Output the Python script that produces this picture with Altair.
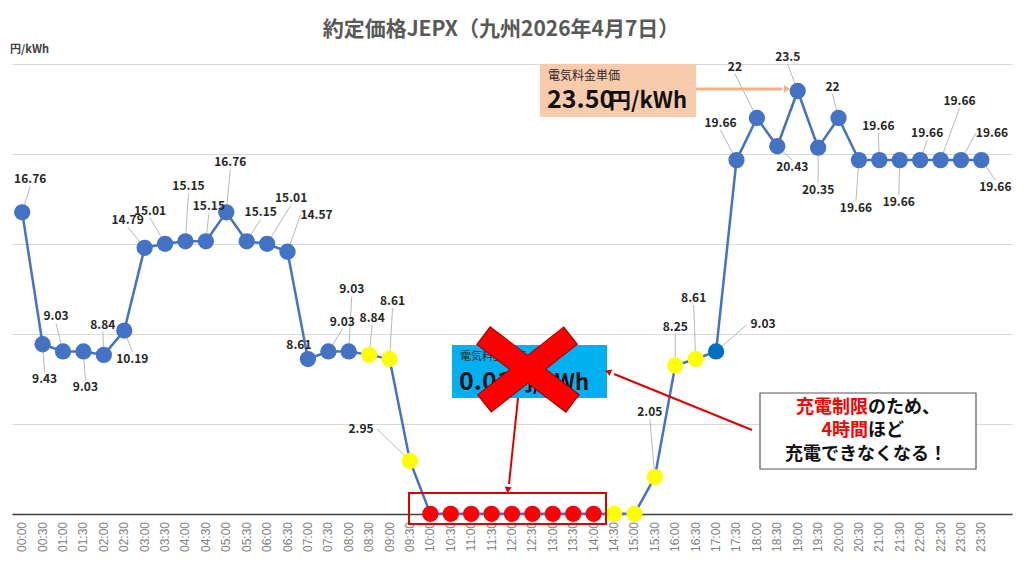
import math
import altair as alt
import pandas as pd

# ---------------- data ----------------
times = ["00:00", "00:30", "01:00", "01:30", "02:00", "02:30", "03:00", "03:30",
         "04:00", "04:30", "05:00", "05:30", "06:00", "06:30", "07:00", "07:30",
         "08:00", "08:30", "09:00", "09:30", "10:00", "10:30", "11:00", "11:30",
         "12:00", "12:30", "13:00", "13:30", "14:00", "14:30", "15:00", "15:30",
         "16:00", "16:30", "17:00", "17:30", "18:00", "18:30", "19:00", "19:30",
         "20:00", "20:30", "21:00", "21:30", "22:00", "22:30", "23:00", "23:30"]

prices = [16.76, 9.43, 9.03, 9.03, 8.84, 10.19, 14.79, 15.01,
          15.15, 15.15, 16.76, 15.15, 15.01, 14.57, 8.61, 9.03,
          9.03, 8.84, 8.61, 2.95, 0.01, 0.01, 0.01, 0.01,
          0.01, 0.01, 0.01, 0.01, 0.01, 0.01, 0.01, 2.05,
          8.25, 8.61, 9.03, 19.66, 22.0, 20.43, 23.5, 20.35,
          22.0, 19.66, 19.66, 19.66, 19.66, 19.66, 19.66, 19.66]

status = (["normal"] * 17 + ["low"] * 3 + ["blocked"] * 9 + ["low"] * 5
          + ["mark"] + ["normal"] * 13)

label_text = ["16.76", "9.43", "9.03", "9.03", "8.84", "10.19", "14.79", "15.01",
              "15.15", "15.15", "16.76", "15.15", "15.01", "14.57", "8.61", "9.03",
              "9.03", "8.84", "8.61", "2.95", "", "", "", "",
              "", "", "", "", "", "", "", "2.05",
              "8.25", "8.61", "9.03", "19.66", "22", "20.43", "23.5", "20.35",
              "22", "19.66", "19.66", "19.66", "19.66", "19.66", "19.66", "19.66"]

# label placement offsets (pixels, relative to the point)
label_dx = [8, 2, -7, 2, -1, 8, -17, -15, 3, 3, 4, 14, 24, 29, -9, 14,
            3, 3, 3, -49, 0, 0, 0, 0, 0, 0, 0, 0, 0, 0, 0, -5,
            0, -2, 47, -16, -22, 15, -10, 0, -6, -3, -1, -1, 7, 19, 31, 14]
label_dy = [-33, 35, -35, 36, -30, 28, -28, -33, -55, -35, -50, -29, -46, -37, -14, -29,
            -62, -37, -58, -32, 0, 0, 0, 0, 0, 0, 0, 0, 0, 0, 0, -65,
            -39, -61, -27, -37, -51, 21, -34, 42, -31, 48, -34, 42, -27, -59, -27, 27]

# ---------------- layout constants ----------------
W, H = 1000, 450
X_DOM = [-0.5, 48.5]
Y_DOM = [0, 25]
PXX = W / (X_DOM[1] - X_DOM[0])
PXY = H / (Y_DOM[1] - Y_DOM[0])
OX, OY = 12, 64  # page position of plot origin


def px(x):
    return x - OX


def py(y):
    return y - OY


rows = []
for i, (t, p, s, lt, dx, dy) in enumerate(zip(times, prices, status, label_text, label_dx, label_dy)):
    lx = i + dx / PXX
    ly = p - dy / PXY
    if abs(dx) >= 25:
        sx = i + (dx - math.copysign(16, dx)) / PXX
        sy = ly
    else:
        sx = lx
        sy = p - (dy - math.copysign(7, dy)) / PXY if dy != 0 else p
    dist = math.hypot(dx, dy)
    rows.append(dict(i=i, time=t, price=p, status=s, label=lt, lx=lx, ly=ly,
                     sx=sx, sy=sy, leader=(lt != "" and dist > 22 and i != 14)))
df = pd.DataFrame(rows)

FONT = "Noto Sans CJK JP"

xs = alt.Scale(domain=X_DOM, nice=False, zero=False)
ys = alt.Scale(domain=Y_DOM, nice=False)

x_enc = alt.X("i:Q", scale=xs, axis=alt.Axis(
    values=list(range(48)), labels=False, grid=False, ticks=False, title=None,
    domainColor="#404040", domainWidth=1.5))
y_enc = alt.Y("price:Q", scale=ys, axis=alt.Axis(
    values=[0, 5, 10, 15, 20, 25], labels=False, ticks=False, domain=False,
    title=None, gridColor="#d9d9d9", gridWidth=1))

base = alt.Chart(df)

line = base.mark_line(color="#4472c4", strokeWidth=2.5).encode(x=x_enc, y=y_enc)

xlabels = base.mark_text(font="Liberation Sans", fontSize=12, color="#7f7f7f",
                         angle=270, align="right", baseline="middle").encode(
    x=alt.X("i:Q", scale=xs), y=alt.value(py(522)), text="time:N")

leaders = base.transform_filter("datum.leader").mark_rule(
    color="#a6a6a6", strokeWidth=0.8).encode(
    x=alt.X("sx:Q", scale=xs), y=alt.Y("sy:Q", scale=ys),
    x2="i:Q", y2="price:Q")

points = base.mark_circle(size=265, opacity=1).encode(
    x=alt.X("i:Q", scale=xs), y=alt.Y("price:Q", scale=ys),
    color=alt.Color("status:N", legend=None, scale=alt.Scale(
        domain=["normal", "low", "blocked", "mark"],
        range=["#4472c4", "#ffff00", "#ff0000", "#0070c0"])))

labels = base.transform_filter("datum.label != ''").mark_text(
    font=FONT, fontSize=12, fontWeight="bold", color="#262626",
    align="center", baseline="middle").encode(
    x=alt.X("lx:Q", scale=xs), y=alt.Y("ly:Q", scale=ys), text="label:N")

one = pd.DataFrame({"k": [0]})
ann = alt.Chart(one)


def rect(x1, y1, x2, y2, **kw):
    return ann.mark_rect(**kw).encode(
        x=alt.value(px(x1)), x2=alt.value(px(x2)),
        y=alt.value(py(y1)), y2=alt.value(py(y2)))


def rule(x1, y1, x2, y2, **kw):
    return ann.mark_rule(**kw).encode(
        x=alt.value(px(x1)), x2=alt.value(px(x2)),
        y=alt.value(py(y1)), y2=alt.value(py(y2)))


def text(t, x, y, **kw):
    return ann.mark_text(text=t, **kw).encode(x=alt.value(px(x)), y=alt.value(py(y)))


def head(x, y, ang, color, size=60):
    return ann.mark_point(shape="triangle", filled=True, opacity=1, size=size,
                          angle=ang, color=color).encode(
        x=alt.value(px(x)), y=alt.value(py(y)))


def arm(x1, y1, x2, y2, ext):
    L = math.hypot(x2 - x1, y2 - y1)
    ux, uy = (x2 - x1) / L, (y2 - y1) / L
    return (x1 - ux * ext, y1 - uy * ext, x2 + ux * ext, y2 + uy * ext)


title = text("約定価格JEPX（九州2026年4月7日）", 501, 30, font=FONT, fontSize=21,
             fontWeight="bold", color="#595959", align="center", baseline="middle")
unit = text("円/kWh", 10, 50, font=FONT, fontSize=11, fontWeight="bold",
            color="#404040", align="left", baseline="middle")

# orange price box
obox = rect(540, 64, 696, 117, color="#f8cbad")
o_t1 = text("電気料金単価", 548, 76, font=FONT, fontSize=12, color="#262626",
            align="left", baseline="middle")
o_t2 = text("23.50", 547, 108, font=FONT, fontSize=25, fontWeight="bold",
            color="#111111", align="left", baseline="alphabetic")
o_t3 = text("円/kWh", 609, 108, font=FONT, fontSize=22, fontWeight="bold",
            color="#111111", align="left", baseline="alphabetic")
o_arrow = rule(696, 89, 782, 89, color="#f4b183", strokeWidth=3)
o_head = head(786, 89, 90, "#f4b183", 55)

# blue price box
bbox = rect(452, 345, 607, 398, color="#00b0f0")
b_t1 = text("電気料金単価", 460, 357, font=FONT, fontSize=11, color="#262626",
            align="left", baseline="middle")
b_t2 = text("0.01", 459, 390, font=FONT, fontSize=25, fontWeight="bold",
            color="#111111", align="left", baseline="alphabetic")
b_t3 = text("円/kWh", 511, 390, font=FONT, fontSize=22, fontWeight="bold",
            color="#111111", align="left", baseline="alphabetic")

# red cross
a1 = (484, 336, 572, 403)
a2 = (570, 336, 485, 403)
x_layers = []
for a in (a1, a2):
    x_layers.append(rule(*arm(*a, 1.2), color="#a00000", strokeWidth=23))
for a in (a1, a2):
    x_layers.append(rule(*a, color="#ff0000", strokeWidth=21))

# red rectangle around the blocked points
rbox = rect(409, 493, 606, 524, fill=None, fillOpacity=0, stroke="#e00000",
            strokeWidth=2)

arrow_a = rule(518, 398, 509, 484, color="#e00000", strokeWidth=2)
head_a = head(508, 489, 186, "#e00000", 50)
arrow_b = rule(752, 430, 614, 374, color="#e00000", strokeWidth=2)
head_b = head(609, 372, 292, "#e00000", 50)

# note box
nbox = rect(760, 393, 976, 469, color="white", stroke="#595959", strokeWidth=1.2)
nt = dict(font=FONT, fontSize=18, fontWeight="bold", baseline="middle")
n1a = text("充電制限", 868, 408, color="#ff0000", align="right", **nt)
n1b = text("のため、", 868, 408, color="#111111", align="left", **nt)
n2a = text("4時間", 868, 431, color="#ff0000", align="right", **nt)
n2b = text("ほど", 868, 431, color="#111111", align="left", **nt)
n3 = text("充電できなくなる！", 866, 455, color="#111111", align="center", **nt)

chart = alt.layer(
    line, xlabels, leaders, points, labels,
    title, unit,
    obox, o_arrow, o_head, o_t1, o_t2, o_t3,
    bbox, b_t1, b_t2, b_t3,
    *x_layers,
    rbox, arrow_a, head_a, arrow_b, head_b,
    nbox, n1a, n1b, n2a, n2b, n3,
).properties(
    width=W, height=H,
    autosize=alt.AutoSizeParams(type="none"),
    padding={"left": 4, "top": 56, "right": 4, "bottom": 54},
).configure_view(stroke=None)

chart.save("out.html", embed_options={"renderer": "svg", "actions": False})
